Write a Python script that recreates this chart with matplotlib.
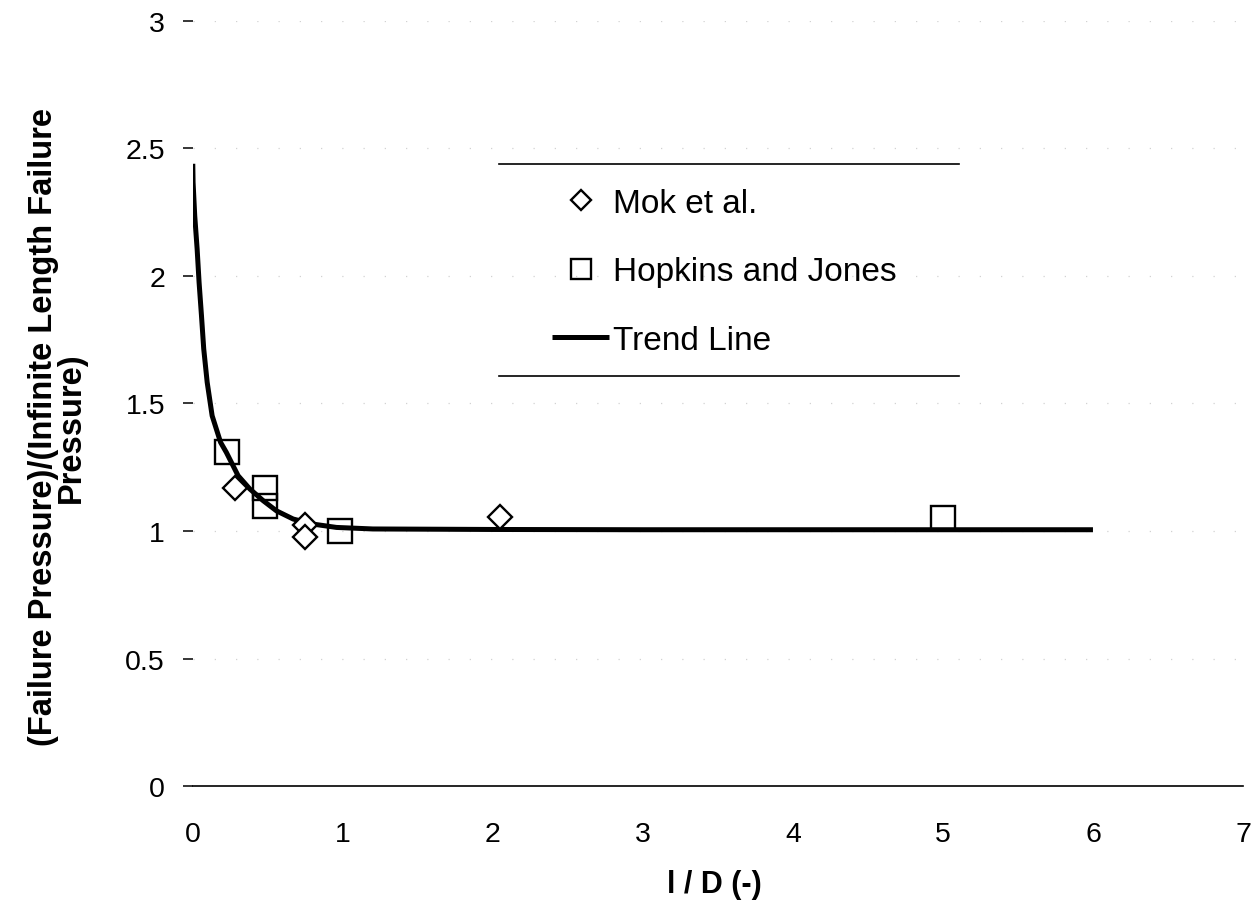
import numpy as np
import matplotlib.pyplot as plt
from matplotlib.lines import Line2D

plt.rcParams['font.family'] = ['Liberation Sans', 'DejaVu Sans']

# Mok et al. (diamonds)
mok_x = [0.28, 0.75, 0.75, 2.05]
mok_y = [1.17, 1.024, 0.976, 1.055]

# Hopkins and Jones (squares)
hop_x = [0.23, 0.48, 0.48, 0.98, 5.0]
hop_y = [1.31, 1.17, 1.10, 1.0, 1.05]

# trend line
trend_x = [0.0, 0.002, 0.013, 0.029, 0.042, 0.058, 0.073, 0.096, 0.129, 0.185,
           0.224, 0.302, 0.38, 0.469, 0.558, 0.669, 0.802, 0.958, 1.2,
           2.0, 3.0, 4.0, 5.0, 6.0]
trend_y = [2.44, 2.367, 2.236, 2.106, 1.975, 1.844, 1.714, 1.583, 1.452, 1.348,
           1.308, 1.217, 1.165, 1.119, 1.079, 1.047, 1.027, 1.014, 1.008,
           1.006, 1.005, 1.005, 1.005, 1.005]

yticks = [0, 0.5, 1, 1.5, 2, 2.5, 3]
ytick_labels = ['0', '0.5', '1', '1.5', '2', '2.5', '3']
xticks = [0, 1, 2, 3, 4, 5, 6, 7]


def graph():
    fig = plt.figure(figsize=(12.6, 9.04), dpi=100)
    ax = fig.add_axes([0.153, 0.1294, 0.8335, 0.8463])

    # faint scanned-looking gridlines
    for yv in yticks[1:]:
        ax.axhline(yv, color='#d2d2d2', lw=0.9, ls=(0, (1, 16)), zorder=0)

    ax.plot(trend_x, trend_y, color='black', lw=3.6, solid_capstyle='butt',
            label='Trend Line', zorder=2)
    ax.plot(mok_x, mok_y, ls='none', marker='D', ms=12, mfc='white',
            mec='black', mew=1.7, label='Mok et al.', zorder=3)
    ax.plot(hop_x, hop_y, ls='none', marker='s', ms=17.5, mfc='none',
            mec='black', mew=1.7, label='Hopkins and Jones', zorder=3)

    ax.set_xlim(0, 7)
    ax.set_ylim(0, 3)
    ax.set_xticks(xticks)
    ax.set_yticks(yticks)
    ax.set_yticklabels(ytick_labels)

    for s in ['top', 'right', 'left']:
        ax.spines[s].set_visible(False)
    ax.spines['bottom'].set_linewidth(1.2)

    ax.tick_params(axis='x', length=0, pad=25, labelsize=20.5)
    ax.tick_params(axis='y', length=7, width=1.1, pad=13, labelsize=20.5)

    ax.set_xlabel('l / D (-)', fontsize=22, fontweight='bold')
    ax.xaxis.set_label_coords(0.497, -0.108)
    ax.set_ylabel('(Failure Pressure)/(Infinite Length Failure\nPressure)',
                  fontsize=23.5, fontweight='bold', linespacing=0.88)
    ax.yaxis.set_label_coords(-0.101, 0.47)

    h, l = ax.get_legend_handles_labels()
    order = [1, 2, 0]
    ax.legend([h[i] for i in order], [l[i] for i in order],
              loc='center left', bbox_to_anchor=(0.342, 0.672),
              frameon=False, fontsize=24, handlelength=1.72,
              handletextpad=0.12, labelspacing=1.13, borderpad=0,
              borderaxespad=0, markerscale=0.85)

    # legend box: only top and bottom rules
    for yy in [0.813, 0.536]:
        ax.add_line(Line2D([0.292, 0.730], [yy, yy], transform=ax.transAxes,
                           color='black', lw=1.2, clip_on=False))

    plt.savefig('out.png', dpi=100)


if __name__ == '__main__':
    graph()
